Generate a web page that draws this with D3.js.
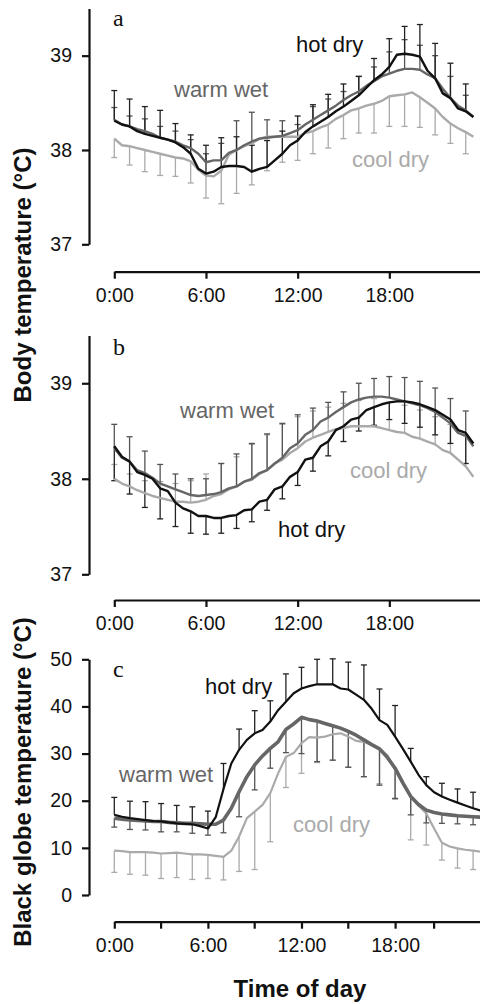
<!DOCTYPE html>
<html>
<head>
<meta charset="utf-8">
<script src="https://cdn.jsdelivr.net/npm/d3@7"></script>
<style>
  body { margin: 0; background: #fff; }
  svg { display: block; }
  text { font-family: "Liberation Sans", Arial, sans-serif; }
</style>
</head>
<body>
<script>
// time stamps (half-hourly line data, hourly error bars)
const hours = [0, 0.5, 1, 1.5, 2, 2.5, 3, 3.5, 4, 4.5, 5, 5.5, 6, 6.5, 7, 7.5, 8, 8.5, 9, 9.5, 10, 10.5, 11, 11.5,
  12, 12.5, 13, 13.5, 14, 14.5, 15, 15.5, 16, 16.5, 17, 17.5, 18, 18.5, 19, 19.5, 20, 20.5, 21, 21.5, 22, 22.5, 23, 23.5];
const barHours = [0, 1, 2, 3, 4, 5, 6, 7, 8, 9, 10, 11, 12, 13, 14, 15, 16, 17, 18, 19, 20, 21, 22, 23];
const timeTicks = [0, 6, 12, 18];
const timeLabels = ["0:00", "6:00", "12:00", "18:00"];
const minorTicksC = [3, 9, 15, 20.5];
const bodyTicks = [37, 38, 39];
const globeTicks = [0, 10, 20, 30, 40, 50];

// panel a - body temperature
const aHot = [38.31, 38.27, 38.25, 38.20, 38.17, 38.15, 38.13, 38.11, 38.08, 38.03, 37.96, 37.80, 37.75, 37.77, 37.82, 37.83,
  37.83, 37.82, 37.77, 37.80, 37.82, 37.89, 37.96, 38.05, 38.10, 38.19, 38.25, 38.30, 38.35, 38.41, 38.46, 38.52,
  38.58, 38.66, 38.74, 38.80, 38.88, 39.01, 39.02, 39.01, 38.99, 38.84, 38.76, 38.60, 38.55, 38.44, 38.41, 38.35];
const aWarm = [38.32, 38.27, 38.25, 38.22, 38.20, 38.17, 38.13, 38.11, 38.09, 38.05, 38.02, 37.96, 37.87, 37.89, 37.89, 37.97,
  38.00, 38.05, 38.09, 38.12, 38.13, 38.14, 38.15, 38.18, 38.21, 38.27, 38.32, 38.37, 38.42, 38.47, 38.53, 38.58,
  38.62, 38.68, 38.73, 38.78, 38.81, 38.84, 38.86, 38.86, 38.85, 38.80, 38.76, 38.65, 38.55, 38.47, 38.42, 38.35];
const aCool = [38.12, 38.05, 38.04, 38.02, 38.00, 37.98, 37.96, 37.94, 37.92, 37.91, 37.88, 37.79, 37.73, 37.72, 37.78, 37.95,
  38.00, 38.04, 38.07, 38.12, 38.14, 38.14, 38.14, 38.14, 38.14, 38.18, 38.20, 38.24, 38.27, 38.33, 38.37, 38.42,
  38.44, 38.47, 38.49, 38.52, 38.57, 38.58, 38.59, 38.61, 38.56, 38.50, 38.44, 38.35, 38.28, 38.23, 38.19, 38.14];
// error bar ends (hourly)
const aHotBar = [38.63, 38.54, 38.46, 38.42, 38.28, 38.16, 38.05, 38.13, 38.14, 38.05, 38.10, 38.20, 38.36, 38.48, 38.59, 38.70,
  38.78, 38.97, 39.18, 39.31, 39.33, 39.13, 38.92, 38.70];
const aWarmBar = [38.45, 38.36, 38.33, 38.25, 38.20, 38.11, 37.96, 38.07, 38.31, 38.40, 38.32, 38.31, 38.27, 38.46, 38.54, 38.62,
  38.78, 38.88, 39.04, 39.17, 39.11, 39.00, 38.78, 38.58];
const aCoolBar = [37.92, 37.84, 37.77, 37.73, 37.72, 37.65, 37.49, 37.43, 37.54, 37.63, 37.78, 37.87, 37.89, 37.96, 38.02, 38.12,
  38.18, 38.18, 38.25, 38.25, 38.24, 38.16, 38.07, 37.96];

// panel b - body temperature
const bHot = [38.34, 38.23, 38.18, 38.07, 38.04, 38.00, 37.90, 37.87, 37.75, 37.69, 37.66, 37.61, 37.61, 37.59, 37.59, 37.61,
  37.62, 37.67, 37.68, 37.76, 37.78, 37.89, 37.92, 38.02, 38.07, 38.20, 38.22, 38.34, 38.39, 38.51, 38.55, 38.62,
  38.64, 38.72, 38.75, 38.78, 38.80, 38.81, 38.81, 38.80, 38.78, 38.75, 38.72, 38.67, 38.62, 38.51, 38.48, 38.37];
const bWarm = [38.32, 38.22, 38.18, 38.09, 38.06, 38.01, 37.95, 37.92, 37.89, 37.86, 37.83, 37.82, 37.83, 37.84, 37.86, 37.90,
  37.92, 37.97, 38.00, 38.06, 38.09, 38.16, 38.22, 38.32, 38.37, 38.46, 38.51, 38.60, 38.64, 38.70, 38.75, 38.80,
  38.83, 38.85, 38.86, 38.86, 38.85, 38.83, 38.81, 38.79, 38.77, 38.74, 38.70, 38.64, 38.58, 38.48, 38.45, 38.34];
const bCool = [38.00, 37.95, 37.92, 37.88, 37.85, 37.82, 37.80, 37.78, 37.76, 37.76, 37.75, 37.76, 37.78, 37.82, 37.84, 37.89,
  37.92, 37.97, 37.99, 38.05, 38.09, 38.16, 38.20, 38.27, 38.32, 38.39, 38.43, 38.46, 38.49, 38.52, 38.53, 38.55,
  38.55, 38.55, 38.55, 38.53, 38.51, 38.49, 38.48, 38.44, 38.42, 38.39, 38.36, 38.30, 38.27, 38.20, 38.13, 38.02];
const bHotBar = [37.98, 37.84, 37.70, 37.58, 37.50, 37.43, 37.42, 37.43, 37.48, 37.55, 37.67, 37.79, 37.93, 38.08, 38.24, 38.39,
  38.50, 38.56, 38.62, 38.58, 38.54, 38.46, 38.37, 38.16];
const bWarmBar = [38.57, 38.44, 38.29, 38.15, 38.05, 38.00, 38.00, 38.16, 38.26, 38.37, 38.47, 38.58, 38.67, 38.74, 38.80, 38.91,
  39.00, 39.05, 39.07, 39.06, 39.02, 38.95, 38.84, 38.71];
const bCoolBar = [38.15, 38.05, 37.98, 37.97, 37.95, 37.98, 38.05, 38.16, 38.23, 38.36, 38.46, 38.57, 38.65, 38.71, 38.75, 38.79,
  38.82, 38.84, 38.80, 38.77, 38.72, 38.65, 38.57, 38.45];

// panel c - black globe temperature
const cHot = [17.0, 16.6, 16.3, 16.1, 15.9, 15.7, 15.6, 15.4, 15.2, 15.1, 15.0, 14.6, 14.1, 16.5, 22.5, 27.9,
  30.8, 32.9, 34.3, 35.0, 36.8, 39.2, 41.0, 42.8, 43.8, 44.3, 44.7, 44.7, 44.7, 43.8, 43.6, 42.5,
  41.4, 39.5, 37.1, 36.1, 33.6, 31.0, 28.3, 25.5, 23.3, 21.8, 20.9, 20.2, 19.6, 19.0, 18.4, 17.9];
const cWarm = [16.3, 16.1, 15.9, 15.8, 15.7, 15.6, 15.6, 15.4, 15.3, 15.2, 15.2, 15.1, 15.0, 15.0, 15.9, 18.4,
  21.9, 25.1, 27.6, 29.5, 31.1, 32.5, 35.1, 36.3, 37.7, 37.2, 36.9, 36.4, 35.9, 35.4, 34.7, 33.9,
  32.9, 31.9, 31.0, 29.2, 26.9, 23.8, 20.9, 19.2, 18.0, 17.5, 17.2, 17.0, 16.8, 16.7, 16.6, 16.5];
const cCool = [9.4, 9.3, 9.1, 9.1, 9.1, 9.0, 8.8, 8.9, 9.0, 8.8, 8.6, 8.6, 8.5, 8.3, 8.1, 9.4,
  12.4, 16.3, 17.7, 19.1, 21.6, 25.8, 29.3, 30.1, 32.2, 33.5, 33.4, 33.6, 34.1, 34.3, 33.6, 32.7,
  32.5, 31.8, 31.1, 29.7, 26.5, 23.5, 20.9, 19.0, 17.3, 14.1, 11.1, 10.3, 9.9, 9.6, 9.4, 9.2];
const cHotBar = [20.7, 19.9, 19.8, 19.4, 19.0, 18.7, 17.8, 27.9, 35.2, 39.1, 41.2, 46.9, 48.3, 50.0, 50.1, 49.4,
  48.8, 43.7, 40.2, 31.1, 25.1, 23.7, 22.5, 21.8];
const cWarmBar = [14.4, 13.9, 13.8, 13.4, 13.4, 13.1, 12.7, 13.2, 16.6, 22.3, 26.9, 30.2, 30.0, 28.3, 28.6, 27.1,
  25.1, 23.3, 20.5, 17.0, 15.3, 15.2, 15.1, 14.9];
const cCoolBar = [4.8, 4.4, 4.2, 3.5, 3.7, 3.3, 3.5, 3.2, 5.0, 5.4, 11.3, 22.8, 25.8, 28.1, 28.6, 27.1,
  25.1, 23.6, 20.3, 11.7, 10.6, 7.4, 5.7, 5.4];

const W = 480, H = 1004;
const svg = d3.select("body").append("svg")
  .attr("width", W)
  .attr("height", H);

const col = { hot: "#111", warm: "#666", cool: "#aaa" };
const barCol = { hot: "#222", warm: "#555", cool: "#aaa" };

function drawPanel(p) {
  const x = d3.scaleLinear().domain([0, 24]).range([114.3, p.xEnd]);
  const y = d3.scaleLinear().domain(p.yDomain).range(p.yRange);
  const g = svg.append("g");

  // y axis
  const yAx = g.append("g")
    .attr("transform", "translate(89,0)")
    .call(d3.axisLeft(y).tickValues(p.yTicks).tickFormat(d3.format("d"))
      .tickSize(7).tickSizeOuter(0).tickPadding(10));
  // x axis
  const xAx = g.append("g")
    .attr("transform", "translate(0," + p.xAxisY + ")")
    .call(d3.axisBottom(x).tickValues(timeTicks).tickFormat((d, i) => timeLabels[i])
      .tickSize(7).tickSizeOuter(0).tickPadding(9));
  if (p.minor) {
    xAx.selectAll(".minor").data(p.minor).enter().append("line")
      .attr("x1", d => x(d)).attr("x2", d => x(d))
      .attr("y1", 0).attr("y2", 7)
      .attr("stroke", "#111").attr("stroke-width", 2.2);
  }
  [yAx, xAx].forEach(a => {
    a.select(".domain").attr("stroke", "#111").attr("stroke-width", 2.2);
    a.selectAll(".tick line").attr("stroke", "#111").attr("stroke-width", 2.2);
    a.selectAll(".tick text").attr("fill", "#111")
      .style("font-size", "19.5px")
      .style("font-family", "'Liberation Sans', Arial, sans-serif");
  });

  // error bars
  p.series.forEach(s => {
    const bars = g.append("g");
    barHours.forEach((h, i) => {
      const v0 = s.values[hours.indexOf(h)];
      bars.append("line")
        .attr("x1", x(h)).attr("x2", x(h))
        .attr("y1", y(v0)).attr("y2", y(s.bars[i]))
        .attr("stroke", barCol[s.key]).attr("stroke-width", 1.3);
      bars.append("line")
        .attr("x1", x(h) - 3).attr("x2", x(h) + 3)
        .attr("y1", y(s.bars[i])).attr("y2", y(s.bars[i]))
        .attr("stroke", barCol[s.key]).attr("stroke-width", 1.3);
    });
  });

  // lines
  const line = d3.line().x((d, i) => x(hours[i])).y(d => y(d));
  p.series.forEach(s => {
    g.append("path")
      .datum(s.values)
      .attr("d", line)
      .attr("fill", "none")
      .attr("stroke", col[s.key])
      .attr("stroke-width", s.width)
      .attr("stroke-linejoin", "round");
  });

  // series labels
  p.labels.forEach(l => {
    g.append("text")
      .attr("x", l.x).attr("y", l.y)
      .attr("fill", col[l.key])
      .style("font-size", "22px")
      .text(l.text);
  });

  // panel letter
  g.append("text")
    .attr("x", 113).attr("y", p.letterY)
    .style("font-family", "'Liberation Serif', 'Times New Roman', serif")
    .style("font-size", "24px")
    .attr("fill", "#111")
    .text(p.letter);
}

drawPanel({
  letter: "a", letterY: 26,
  yDomain: [37, 39.5], yRange: [244.3, 8.5], yTicks: bodyTicks,
  xEnd: 481, xAxisY: 271.7,
  series: [
    { key: "cool", values: aCool, bars: aCoolBar, width: 2.4 },
    { key: "warm", values: aWarm, bars: aWarmBar, width: 2.4 },
    { key: "hot", values: aHot, bars: aHotBar, width: 2.4 }
  ],
  labels: [
    { key: "hot", text: "hot dry", x: 296, y: 52 },
    { key: "warm", text: "warm wet", x: 174, y: 97 },
    { key: "cool", text: "cool dry", x: 352, y: 167 }
  ]
});

drawPanel({
  letter: "b", letterY: 355,
  yDomain: [37, 39.5], yRange: [574.3, 335.5], yTicks: bodyTicks,
  xEnd: 481, xAxisY: 600,
  series: [
    { key: "cool", values: bCool, bars: bCoolBar, width: 2.4 },
    { key: "warm", values: bWarm, bars: bWarmBar, width: 2.4 },
    { key: "hot", values: bHot, bars: bHotBar, width: 2.4 }
  ],
  labels: [
    { key: "warm", text: "warm wet", x: 180, y: 418 },
    { key: "cool", text: "cool dry", x: 350, y: 478 },
    { key: "hot", text: "hot dry", x: 278, y: 537 }
  ]
});

drawPanel({
  letter: "c", letterY: 677,
  yDomain: [0, 50], yRange: [895, 659.3], yTicks: globeTicks,
  xEnd: 488.7, xAxisY: 921.7, minor: minorTicksC,
  series: [
    { key: "cool", values: cCool, bars: cCoolBar, width: 2.2 },
    { key: "warm", values: cWarm, bars: cWarmBar, width: 3.6 },
    { key: "hot", values: cHot, bars: cHotBar, width: 2.2 }
  ],
  labels: [
    { key: "hot", text: "hot dry", x: 205, y: 694 },
    { key: "warm", text: "warm wet", x: 119, y: 782 },
    { key: "cool", text: "cool dry", x: 293, y: 832 }
  ]
});

// axis titles
svg.append("text")
  .attr("transform", "translate(31,275) rotate(-90)")
  .attr("text-anchor", "middle")
  .style("font-size", "24px").style("font-weight", "bold")
  .attr("fill", "#111")
  .text("Body temperature (°C)");

svg.append("text")
  .attr("transform", "translate(31,782) rotate(-90)")
  .attr("text-anchor", "middle")
  .style("font-size", "24px").style("font-weight", "bold")
  .attr("fill", "#111")
  .text("Black globe temperature (°C)");

svg.append("text")
  .attr("x", 300).attr("y", 997)
  .attr("text-anchor", "middle")
  .style("font-size", "24px").style("font-weight", "bold")
  .attr("fill", "#111")
  .text("Time of day");
</script>
</body>
</html>
